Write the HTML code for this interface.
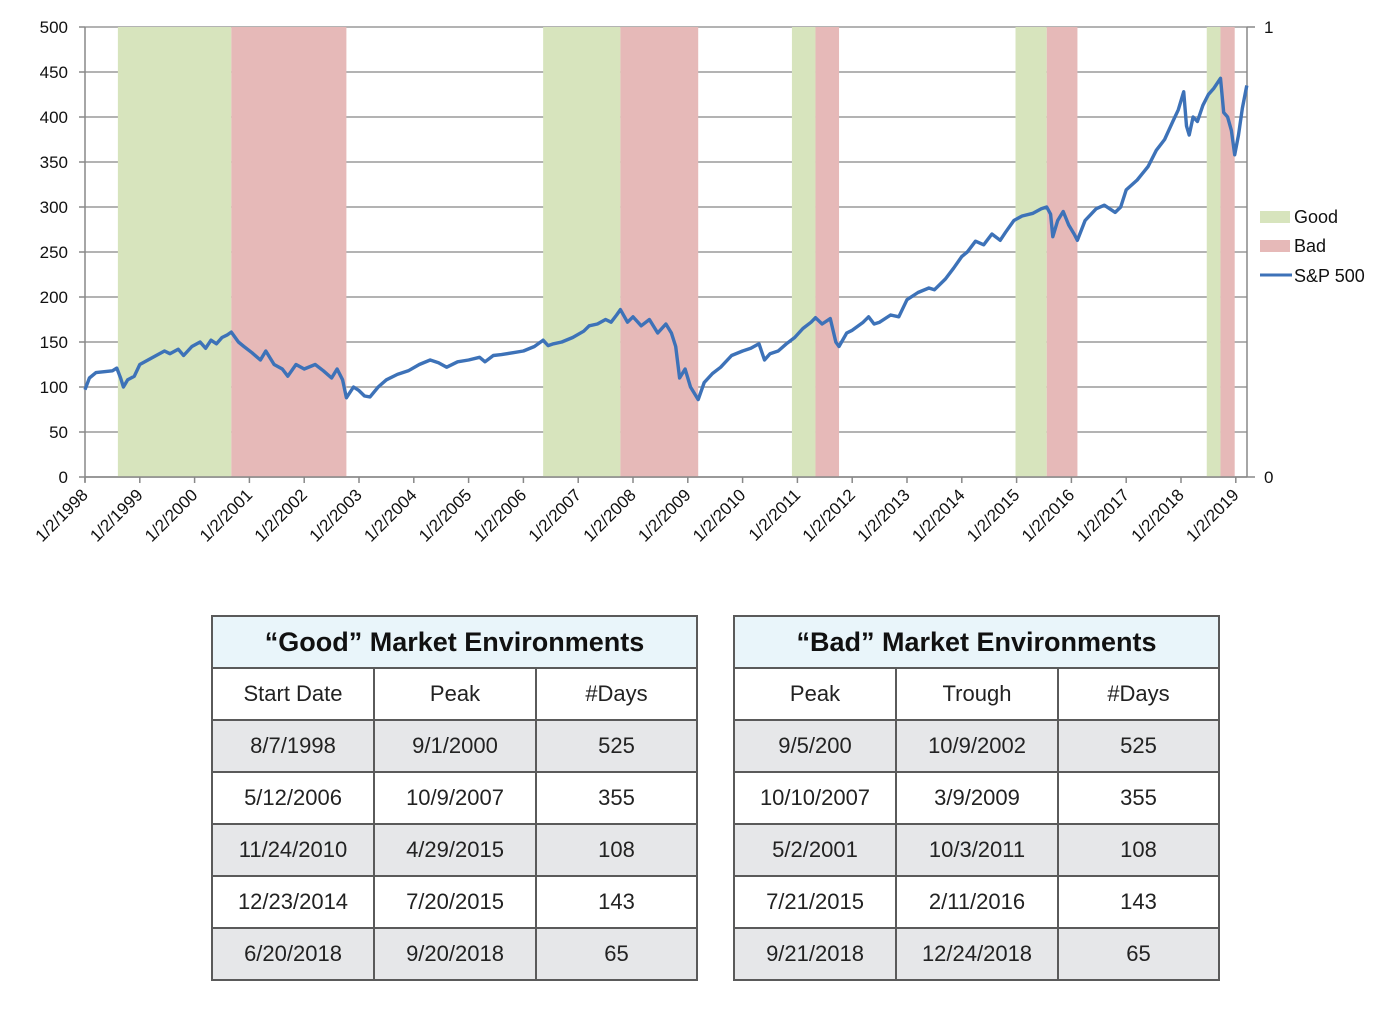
<!DOCTYPE html>
<html><head><meta charset="utf-8">
<style>
body{margin:0;background:#fff;font-family:"Liberation Sans",Arial,sans-serif;}
#wrap{position:relative;width:1400px;height:1011px;overflow:hidden;}
table{position:absolute;border-collapse:collapse;font-family:"Liberation Sans",Arial,sans-serif;}
td,th{border:2px solid #5a5a5a;text-align:center;color:#222;font-size:22px;font-weight:normal;height:50px;padding:0;}
th{background:#e9f5fa;font-weight:bold;font-size:27px;color:#111;height:50px;}
tr.g td{background:#e6e7e9;}
</style></head><body>
<div id="wrap">
<svg id="chart" width="1400" height="580" style="position:absolute;left:0;top:0" font-family="Liberation Sans, Arial, sans-serif"></svg>

<table style="left:211px;top:615px;width:487px">
<tr><th colspan="3">“Good” Market Environments</th></tr>
<tr><td style="width:160px">Start Date</td><td style="width:160px">Peak</td><td>#Days</td></tr>
<tr class="g"><td>8/7/1998</td><td>9/1/2000</td><td>525</td></tr>
<tr><td>5/12/2006</td><td>10/9/2007</td><td>355</td></tr>
<tr class="g"><td>11/24/2010</td><td>4/29/2015</td><td>108</td></tr>
<tr><td>12/23/2014</td><td>7/20/2015</td><td>143</td></tr>
<tr class="g"><td>6/20/2018</td><td>9/20/2018</td><td>65</td></tr>
</table>
<table style="left:733px;top:615px;width:487px">
<tr><th colspan="3">“Bad” Market Environments</th></tr>
<tr><td style="width:160px">Peak</td><td style="width:160px">Trough</td><td>#Days</td></tr>
<tr class="g"><td>9/5/200</td><td>10/9/2002</td><td>525</td></tr>
<tr><td>10/10/2007</td><td>3/9/2009</td><td>355</td></tr>
<tr class="g"><td>5/2/2001</td><td>10/3/2011</td><td>108</td></tr>
<tr><td>7/21/2015</td><td>2/11/2016</td><td>143</td></tr>
<tr class="g"><td>9/21/2018</td><td>12/24/2018</td><td>65</td></tr>
</table>
</div>
<script>
const goodStarts=[1998.6,2006.36,2010.9,2014.98,2018.47];
const goodEnds=[2000.67,2007.77,2011.33,2015.55,2018.72];
const badStarts=[2000.67,2007.77,2011.33,2015.55,2018.72];
const badEnds=[2002.77,2009.19,2011.76,2016.11,2018.98];
const dates=[1998.0,1998.08,1998.2,1998.35,1998.5,1998.58,1998.65,1998.7,1998.78,1998.9,
1999.0,1999.15,1999.3,1999.45,1999.55,1999.7,1999.8,1999.95,2000.1,2000.2,
2000.3,2000.4,2000.5,2000.6,2000.67,2000.8,2000.9,2001.05,2001.2,2001.3,
2001.45,2001.6,2001.7,2001.85,2002.0,2002.2,2002.35,2002.5,2002.6,2002.7,
2002.77,2002.9,2003.0,2003.1,2003.2,2003.35,2003.5,2003.7,2003.9,2004.1,
2004.3,2004.45,2004.6,2004.8,2005.0,2005.2,2005.3,2005.45,2005.6,2005.8,
2006.0,2006.2,2006.36,2006.45,2006.55,2006.7,2006.9,2007.1,2007.2,2007.35,
2007.5,2007.6,2007.7,2007.77,2007.9,2008.0,2008.15,2008.3,2008.45,2008.6,
2008.7,2008.78,2008.85,2008.95,2009.05,2009.19,2009.3,2009.45,2009.6,2009.8,
2010.0,2010.15,2010.3,2010.4,2010.5,2010.65,2010.8,2010.95,2011.1,2011.25,
2011.33,2011.45,2011.6,2011.7,2011.76,2011.9,2012.0,2012.2,2012.3,2012.4,
2012.5,2012.7,2012.85,2013.0,2013.2,2013.4,2013.5,2013.7,2013.85,2014.0,
2014.1,2014.25,2014.4,2014.55,2014.7,2014.8,2014.95,2015.1,2015.3,2015.45,
2015.55,2015.62,2015.66,2015.75,2015.85,2015.95,2016.05,2016.11,2016.25,2016.45,
2016.6,2016.8,2016.9,2017.0,2017.2,2017.4,2017.55,2017.7,2017.85,2017.95,
2018.05,2018.1,2018.15,2018.22,2018.3,2018.4,2018.5,2018.6,2018.72,2018.78,
2018.85,2018.92,2018.98,2019.05,2019.12,2019.2];
const prices=[97,110,116,117,118,121,110,100,108,112,
125,130,135,140,137,142,135,145,150,143,
152,148,155,158,161,150,145,138,130,140,
125,120,112,125,120,125,118,110,120,108,
88,100,96,90,89,100,108,114,118,125,
130,127,122,128,130,133,128,135,136,138,
140,145,152,146,148,150,155,162,168,170,
175,172,180,186,172,178,168,175,160,170,
160,145,110,120,100,86,105,115,122,135,
140,143,148,130,137,140,148,155,165,172,
177,170,176,150,145,160,163,172,178,170,
172,180,178,197,205,210,208,220,232,245,
250,262,258,270,263,272,285,290,293,298,
300,292,267,285,295,280,270,263,285,298,
302,294,300,319,330,345,363,375,395,408,
428,390,380,400,395,413,425,432,443,405,
400,385,358,380,410,435];

const svg=document.getElementById('chart');
const NS='http://www.w3.org/2000/svg';
const X0=85,X1=1247,Y0=477,Y1=27;
const xs=t=>X0+(t-1998)*54.8;
const ys=v=>Y0-v*(Y0-Y1)/500;
function mk(tag,attrs,parent){const e=document.createElementNS(NS,tag);for(const k in attrs)e.setAttribute(k,attrs[k]);(parent||svg).appendChild(e);return e;}

for(let v=0;v<=500;v+=50){
 const g=mk('line',{x1:X0,x2:X1,y1:ys(v),y2:ys(v),stroke:'#9a9a9a','stroke-width':1.5});
 
 
 const t=mk('text',{x:68,y:ys(v)+6,'text-anchor':'end','font-size':17,fill:'#111'});
 t.textContent=v;
 
 
}
for(let i=0;i<goodStarts.length;i++){
 const r=mk('rect',{x:xs(goodStarts[i]),y:Y1,width:xs(goodEnds[i])-xs(goodStarts[i]),height:Y0-Y1,fill:'#d7e4bd'});
 
 
}
for(let i=0;i<badStarts.length;i++){
 const r=mk('rect',{x:xs(badStarts[i]),y:Y1,width:xs(badEnds[i])-xs(badStarts[i]),height:Y0-Y1,fill:'#e6b9b8'});
 
 
}
mk('line',{x1:X0,x2:X0,y1:Y1,y2:Y0+5,stroke:'#888','stroke-width':1.5});
mk('line',{x1:X1,x2:X1,y1:Y1,y2:Y0,stroke:'#888','stroke-width':1.5});
mk('line',{x1:X0,x2:X1,y1:Y0,y2:Y0,stroke:'#888','stroke-width':1.5});
mk('line',{x1:X1,x2:X1+8,y1:Y1,y2:Y1,stroke:'#888','stroke-width':1.5});
mk('line',{x1:X1,x2:X1+8,y1:Y0,y2:Y0,stroke:'#888','stroke-width':1.5});
for(let v=0;v<=500;v+=50) mk('line',{x1:X0-6,x2:X0,y1:ys(v),y2:ys(v),stroke:'#888','stroke-width':1.5});
const r1=mk('text',{x:1264,y:33,'font-size':17,fill:'#111'});r1.textContent='1';


const r0=mk('text',{x:1264,y:483,'font-size':17,fill:'#111'});r0.textContent='0';


for(let y=1998;y<=2019;y++){
 const x=xs(y);
 mk('line',{x1:x,x2:x,y1:Y0,y2:Y0+6,stroke:'#888','stroke-width':1.5});
 const t=mk('text',{x:x+4,y:Y0+19,'text-anchor':'end','font-size':17,fill:'#111',transform:`rotate(-45 ${x+4} ${Y0+19})`});
 t.textContent='1/2/'+y;
 
 
}
let d='';
for(let i=0;i<dates.length;i++) d+=(i?'L':'M')+xs(dates[i]).toFixed(1)+','+ys(prices[i]).toFixed(1);
const p=mk('path',{d:d,fill:'none',stroke:'#3d72b8','stroke-width':3.4,'stroke-linejoin':'round'});


const lg=mk('g',{});


mk('rect',{x:1260,y:211,width:30,height:12,fill:'#d7e4bd'},lg);
mk('rect',{x:1260,y:240,width:30,height:12,fill:'#e6b9b8'},lg);
mk('line',{x1:1260,x2:1292,y1:275,y2:275,stroke:'#3d72b8','stroke-width':3},lg);
[['Good',223],['Bad',252],['S&P 500',282]].forEach(([s,y])=>{
 const t=mk('text',{x:1294,y:y,'font-size':18,fill:'#111'},lg);t.textContent=s;
 
 
});
</script>
</body></html>
